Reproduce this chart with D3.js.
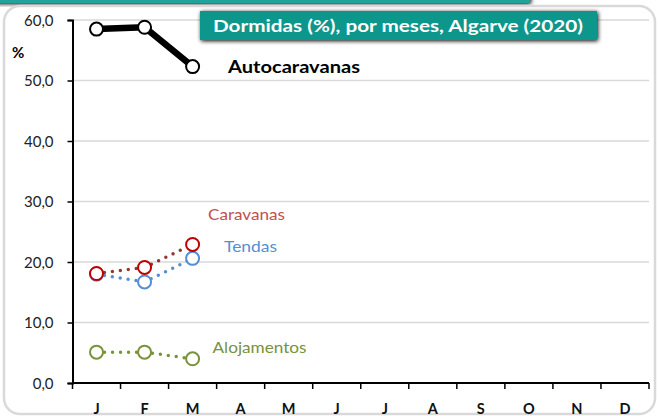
<!DOCTYPE html>
<html><head><meta charset="utf-8">
<script src="https://cdn.jsdelivr.net/npm/d3@7"></script>
<style>body{margin:0;background:#fff}svg{display:block}</style>
</head><body>
<script>
const months = ["J","F","M","A","M","J","J","A","S","O","N","D"];
const yTicks = [0,10,20,30,40,50,60];
const autocaravanas = [58.5, 58.8, 52.3];
const caravanas = [18.1, 19.1, 22.9];
const tendas = [18.0, 16.7, 20.6];
const alojamentos = [5.1, 5.1, 4.0];
const title = "Dormidas (%), por meses, Algarve (2020)";

const W = 658, H = 416;
const svg = d3.select("body").append("svg").attr("width", W).attr("height", H);
const font = "Lato, 'Open Sans', sans-serif";

const defs = svg.append("defs");
const f = defs.append("filter").attr("id","sh").attr("x","-10%").attr("y","-30%").attr("width","120%").attr("height","160%");
f.append("feGaussianBlur").attr("in","SourceAlpha").attr("stdDeviation",2);
f.append("feOffset").attr("dx",1).attr("dy",1).attr("result","o");
const fm = f.append("feMerge"); fm.append("feMergeNode").attr("in","o"); fm.append("feMergeNode").attr("in","SourceGraphic");

// top banner remnant
svg.append("rect").attr("x",-5).attr("y",-10).attr("width",535).attr("height",13).attr("fill","#22a39a").attr("filter","url(#sh)");
// frame
svg.append("rect").attr("x",4).attr("y",6).attr("width",651).attr("height",408).attr("rx",16)
  .attr("fill","none").attr("stroke","#d9d9d9").attr("stroke-width",2.5);

const x = d3.scaleBand().domain(d3.range(12)).range([72.5, 649]);
const y = d3.scaleLinear().domain([0,60]).range([383, 20]);

// gridlines
svg.append("g").selectAll("line").data(yTicks.slice(1)).join("line")
  .attr("x1",72.5).attr("x2",649).attr("y1",d=>y(d)).attr("y2",d=>y(d))
  .attr("stroke","#d9d9d9").attr("stroke-width",1.5);

// y axis
const ya = svg.append("g").attr("transform","translate(72.5,0)")
  .call(d3.axisLeft(y).tickValues(yTicks).tickSize(5).tickFormat(d=>d3.format(".1f")(d).replace(".",",")));
ya.select(".domain").attr("stroke","#000").attr("stroke-width",2);
ya.selectAll(".tick line").attr("stroke","#000").attr("stroke-width",1.5);
ya.selectAll("text").attr("font-family",font).attr("font-size",15).attr("fill","#222").attr("x",-19).attr("dy","0.35em");

// x axis
const xa = svg.append("g").attr("transform","translate(0,383)");
xa.append("line").attr("x1",72.5).attr("x2",649).attr("stroke","#000").attr("stroke-width",2);
xa.selectAll("line.t").data(d3.range(13)).join("line").attr("class","t")
  .attr("x1",i=>72.5+i*x.step()).attr("x2",i=>72.5+i*x.step()).attr("y1",0).attr("y2",6)
  .attr("stroke","#000").attr("stroke-width",1.5);
xa.selectAll("text").data(months).join("text")
  .attr("x",(d,i)=>x(i)+x.bandwidth()/2).attr("y",31).attr("text-anchor","middle")
  .attr("font-family",font).attr("font-weight","bold").attr("font-size",14.5).attr("fill","#111").text(d=>d);

svg.append("text").attr("x",12).attr("y",58).attr("font-family",font).attr("font-weight","bold")
  .attr("font-size",15).text("%");

// title box
svg.append("rect").attr("x",200).attr("y",11).attr("width",397).attr("height",29).attr("fill","#0d968b").attr("filter","url(#sh)");
svg.append("text").attr("x",213).attr("y",32).attr("font-family",font).attr("font-weight","bold")
  .attr("font-size",17).attr("fill","#fff").attr("textLength",370).attr("lengthAdjust","spacingAndGlyphs").text(title);

const cx = i => x(i)+x.bandwidth()/2;
function series(data, lineColor, markColor, width, dotted){
  const line = d3.line().x((d,i)=>cx(i)).y(d=>y(d));
  const p = svg.append("path").datum(data).attr("d",line).attr("fill","none")
    .attr("stroke",lineColor).attr("stroke-width",width).attr("stroke-linecap","round").attr("stroke-linejoin","round");
  if (dotted) p.attr("stroke-dasharray","0 8");
  svg.append("g").selectAll("circle").data(data).join("circle")
    .attr("cx",(d,i)=>cx(i)).attr("cy",d=>y(d)).attr("r",6.5)
    .attr("fill","#fff").attr("stroke",markColor).attr("stroke-width",2);
}
series(alojamentos, "#77933c", "#77933c", 3.5, true);
series(tendas, "#558ed5", "#558ed5", 3.5, true);
series(caravanas, "#953735", "#c00000", 3.5, true);
series(autocaravanas, "#000", "#000", 6.5, false);

const labels = [
  {t:"Autocaravanas", x:228, y:73, c:"#000", b:true, s:16.5, w:132},
  {t:"Caravanas", x:208, y:220, c:"#c0504d", b:false, s:15, w:77},
  {t:"Tendas", x:224, y:252, c:"#558ed5", b:false, s:15, w:53},
  {t:"Alojamentos", x:212.5, y:353, c:"#77933c", b:false, s:15, w:94}
];
svg.append("g").selectAll("text").data(labels).join("text")
  .attr("x",d=>d.x).attr("y",d=>d.y).attr("fill",d=>d.c).attr("font-family",font)
  .attr("font-weight",d=>d.b?"bold":"normal").attr("font-size",d=>d.s)
  .attr("textLength",d=>d.w).attr("lengthAdjust","spacingAndGlyphs").text(d=>d.t);
</script>
</body></html>
